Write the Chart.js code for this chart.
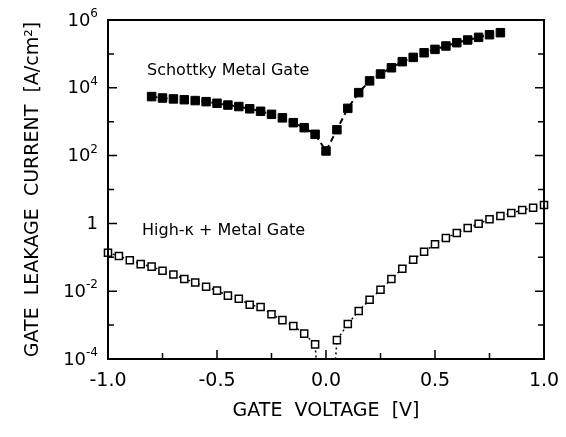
<!DOCTYPE html>
<html>
<head>
<meta charset="utf-8">
<script src="https://cdn.jsdelivr.net/npm/chart.js@4.4.1/dist/chart.umd.min.js"></script>
<style>
  body { margin: 0; background: #fff; }
</style>
</head>
<body>
<canvas id="myChart" width="566" height="437"></canvas>
<script>
// Schottky metal gate: filled squares, dashed line
const voltsSchottky = [-0.8, -0.75, -0.7, -0.65, -0.6, -0.55, -0.5, -0.45, -0.4, -0.35, -0.3, -0.25, -0.2, -0.15, -0.1, -0.05,
  0, 0.05, 0.1, 0.15, 0.2, 0.25, 0.3, 0.35, 0.4, 0.45, 0.5, 0.55, 0.6, 0.65, 0.7, 0.75, 0.8];
const currentSchottky = [5500, 5000, 4700, 4450, 4200, 3900, 3500, 3100, 2800, 2400, 2030, 1650, 1300, 935, 665, 425,
  137, 580, 2480, 7200, 16000, 25500, 39000, 59000, 79000, 108000, 136000, 171000, 214000, 257000, 308000, 368000, 422000];

// high-k + metal gate: open squares, dotted line (minimum at 0 V is off scale)
const voltsHighK = [-1.0, -0.95, -0.9, -0.85, -0.8, -0.75, -0.7, -0.65, -0.6, -0.55, -0.5, -0.45, -0.4, -0.35, -0.3, -0.25, -0.2, -0.15, -0.1, -0.05,
  0, 0.05, 0.1, 0.15, 0.2, 0.25, 0.3, 0.35, 0.4, 0.45, 0.5, 0.55, 0.6, 0.65, 0.7, 0.75, 0.8, 0.85, 0.9, 0.95, 1.0];
const currentHighK = [0.137, 0.109, 0.082, 0.063, 0.053, 0.040, 0.031, 0.023, 0.018, 0.0136, 0.0104, 0.0074, 0.0060, 0.0040, 0.0034, 0.0021, 0.0014, 0.00094, 0.00056, 0.00027,
  1e-8, 0.00036, 0.00108, 0.0026, 0.0056, 0.011, 0.023, 0.046, 0.085, 0.146, 0.242, 0.371, 0.52, 0.73, 0.98, 1.32, 1.65, 2.03, 2.48, 2.9, 3.49];

// axis ticks and labels
const xTickValues = [-1.0, -0.5, 0.0, 0.5, 1.0];
const xTickLabels = ['-1.0', '-0.5', '0.0', '0.5', '1.0'];
const xMinorTicks = [-0.75, -0.25, 0.25, 0.75];
const yTickValues = [1e-4, 1e-2, 1, 1e2, 1e4, 1e6];
const yTickBase = ['10', '10', '1', '10', '10', '10'];
const yTickExp = ['-4', '-2', '', '2', '4', '6'];
const yMinorTicks = [1e-3, 1e-1, 1e1, 1e3, 1e5];

const FONT = '"DejaVu Sans", Verdana, sans-serif';

const frame = {
  id: 'frame',
  afterDatasetsDraw(chart) {
    const { ctx, chartArea: a, scales: { x, y } } = chart;
    ctx.save();
    ctx.strokeStyle = '#000';
    ctx.fillStyle = '#000';

    // box
    ctx.lineWidth = 2;
    ctx.strokeRect(a.left, a.top, a.right - a.left, a.bottom - a.top);

    // inward ticks
    ctx.lineWidth = 1.5;
    ctx.beginPath();
    xTickValues.concat(xMinorTicks).forEach(v => {
      const px = x.getPixelForValue(v);
      const len = xTickValues.includes(v) ? 9 : 6;
      ctx.moveTo(px, a.bottom);
      ctx.lineTo(px, a.bottom - len);
    });
    yTickValues.concat(yMinorTicks).forEach(v => {
      const py = y.getPixelForValue(v);
      const len = yTickValues.includes(v) ? 9 : 6;
      ctx.moveTo(a.left, py);
      ctx.lineTo(a.left + len, py);
      ctx.moveTo(a.right, py);
      ctx.lineTo(a.right - len, py);
    });
    ctx.stroke();

    // x tick labels
    ctx.font = '19px ' + FONT;
    ctx.textAlign = 'center';
    ctx.textBaseline = 'middle';
    xTickValues.forEach((v, i) => {
      ctx.fillText(xTickLabels[i], x.getPixelForValue(v), a.bottom + 22);
    });

    // y tick labels with superscript exponents
    yTickValues.forEach((v, i) => {
      const py = y.getPixelForValue(v);
      ctx.font = '12px ' + FONT;
      const ew = yTickExp[i] ? ctx.measureText(yTickExp[i]).width : 0;
      const right = a.left - 10;
      if (yTickExp[i]) {
        ctx.textAlign = 'right';
        ctx.textBaseline = 'alphabetic';
        ctx.fillText(yTickExp[i], right, py - 3);
      }
      ctx.font = '18px ' + FONT;
      ctx.textAlign = 'right';
      ctx.textBaseline = 'middle';
      ctx.fillText(yTickBase[i], right - ew, py + 1);
    });

    // axis titles
    ctx.font = '19px ' + FONT;
    ctx.textAlign = 'center';
    ctx.textBaseline = 'middle';
    ctx.fillText('GATE  VOLTAGE  [V]', (a.left + a.right) / 2, a.bottom + 52);
    ctx.save();
    ctx.translate(33, (a.top + a.bottom) / 2);
    ctx.rotate(-Math.PI / 2);
    ctx.fillText('GATE  LEAKAGE  CURRENT  [A/cm\u00B2]', 0, 0);
    ctx.restore();

    // curve labels
    ctx.font = '16px ' + FONT;
    ctx.textAlign = 'left';
    ctx.textBaseline = 'alphabetic';
    ctx.fillText('Schottky Metal Gate', 147, 75);
    ctx.fillText('High-\u03BA + Metal Gate', 142, 235);
    ctx.restore();
  }
};

new Chart(document.getElementById('myChart'), {
  type: 'line',
  data: {
    datasets: [
      {
        label: 'Schottky Metal Gate',
        data: voltsSchottky.map((v, i) => ({ x: v, y: currentSchottky[i] })),
        borderColor: '#000',
        borderWidth: 2,
        borderDash: [6, 4],
        pointStyle: 'rect',
        pointRadius: 6,
        pointBorderWidth: 1,
        pointBackgroundColor: '#000',
        pointBorderColor: '#000',
        tension: 0
      },
      {
        label: 'High-\u03BA + Metal Gate',
        data: voltsHighK.map((v, i) => ({ x: v, y: currentHighK[i] })),
        borderColor: '#000',
        borderWidth: 1.5,
        borderDash: [2, 3],
        pointStyle: 'rect',
        pointRadius: 5,
        pointBorderWidth: 1.5,
        pointBackgroundColor: '#fff',
        pointBorderColor: '#000',
        tension: 0,
        clip: { left: 8, right: 8, top: 8, bottom: 0 }
      }
    ]
  },
  options: {
    responsive: false,
    animation: false,
    layout: { padding: { left: 108, right: 22, top: 20, bottom: 78 } },
    plugins: { legend: { display: false }, tooltip: { enabled: false } },
    scales: {
      x: { type: 'linear', min: -1, max: 1, display: false },
      y: { type: 'logarithmic', min: 1e-4, max: 1e6, display: false }
    }
  },
  plugins: [frame]
});
</script>
</body>
</html>
